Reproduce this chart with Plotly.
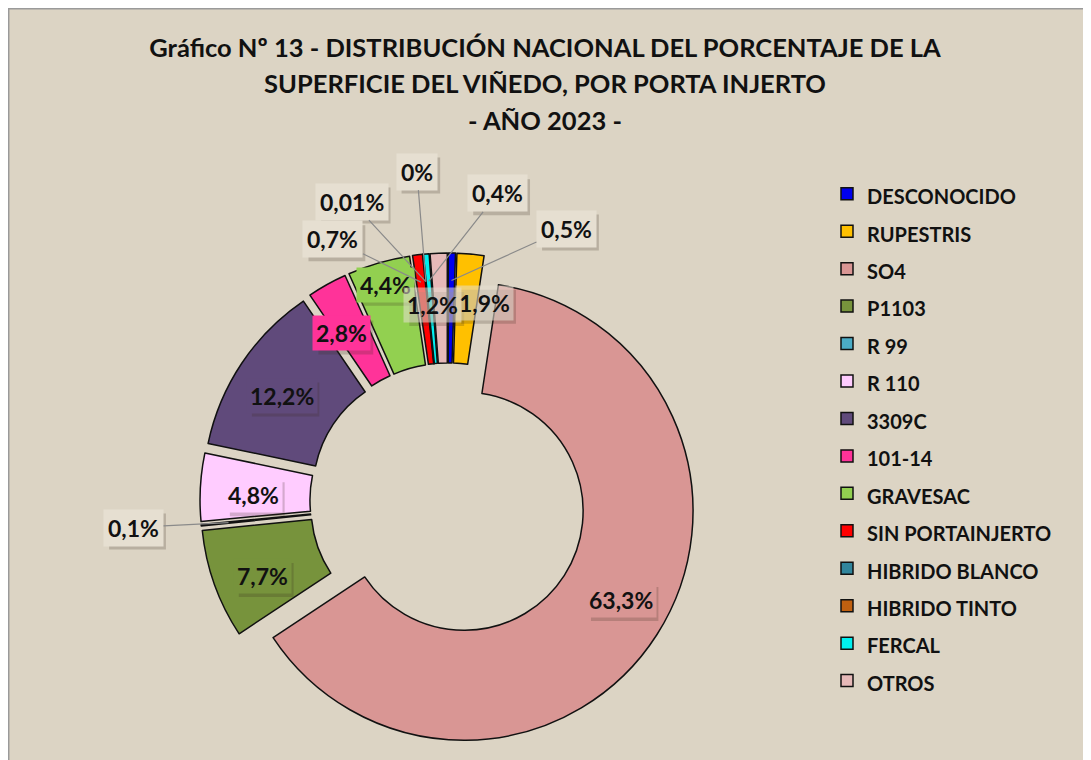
import math
import plotly.graph_objects as go

# ---------------- data ----------------
categories = ["DESCONOCIDO", "RUPESTRIS", "SO4", "P1103", "R 99", "R 110", "3309C",
              "101-14", "GRAVESAC", "SIN PORTAINJERTO", "HIBRIDO BLANCO",
              "HIBRIDO TINTO", "FERCAL", "OTROS"]
values = [0.5, 1.9, 63.3, 7.7, 0.1, 4.8, 12.2, 2.8, 4.4, 0.7, 0.01, 0, 0.4, 1.2]
value_labels = ["0,5%", "1,9%", "63,3%", "7,7%", "0,1%", "4,8%", "12,2%", "2,8%",
                "4,4%", "0,7%", "0,01%", "0%", "0,4%", "1,2%"]
colors = ["#0000ee", "#ffc000", "#d99694", "#77933c", "#4bacc6", "#ffccff", "#604a7b",
          "#ff3399", "#92d050", "#ff0000", "#31859c", "#c06010", "#00f0f0", "#e6b9b8"]

title_lines = ["Gráfico Nº 13 - DISTRIBUCIÓN NACIONAL DEL PORCENTAJE DE LA",
               "SUPERFICIE DEL VIÑEDO, POR PORTA INJERTO",
               "- AÑO 2023 -"]

# ---------------- layout / style ----------------
W, H = 1091, 760
OFF = 8          # the page body margin that shifts the figure in the browser
PULL = 0.083
HOLE = 0.52
FONT = "Lato"
BG = "#dcd4c4"
BOX = "#e6dfd1"
SHADOW = "rgba(60,45,30,0.22)"

# pie box in page pixels (centre 448,501; half size 248)
box_l, box_r, box_t, box_b = 200, 696, 253, 749
dom_x = [(box_l - OFF) / W, (box_r - OFF) / W]
dom_y = [1 - (box_b - OFF) / H, 1 - (box_t - OFF) / H]

# label placement style per slice: ("in", dx, dy) or ("out", ax, ay)
label_style = {
    "DESCONOCIDO": ("out", 115, -52),
    "RUPESTRIS": ("in", 19, -6),
    "SO4": ("in", 10, -5),
    "P1103": ("in", -4, 10),
    "R 99": ("out", -95, 5),
    "R 110": ("in", -2, 5),
    "3309C": ("in", -6, 2),
    "101-14": ("in", -12, 1),
    "GRAVESAC": ("in", -9, -31),
    "SIN PORTAINJERTO": ("out", -88, -43),
    "HIBRIDO BLANCO": ("out", -74, -80),
    "HIBRIDO TINTO": ("out", -9, -110),
    "FERCAL": ("out", 69, -88),
    "OTROS": ("in", -8, -3),
}
translucent_boxes = {"RUPESTRIS", "OTROS"}

# pie geometry (same rules plotly uses to place the pie in its domain), figure pixels
box_w = W * (dom_x[1] - dom_x[0])
box_h = H * (dom_y[1] - dom_y[0])
R = min(box_w, box_h) / (2 + 2 * PULL)
cx = W * (dom_x[0] + dom_x[1]) / 2
cy = H * (1 - dom_y[0]) - box_h / 2
total = sum(values)


def slice_point(i, rho):
    before = sum(values[:i])
    a = 2 * math.pi * (before + values[i] / 2) / total
    sx, sy = math.sin(a), -math.cos(a)
    px = cx + PULL * R * sx + rho * R * sx
    py = cy + PULL * R * sy + rho * R * sy
    return px, py


def to_paper(px, py):
    return px / W, 1 - py / H


def text_width(s):
    return sum(12.6 if c.isdigit() else 5.6 if c == "," else 18.0 for c in s)


def shadow_shape(px, py, s, pad, h):
    w = text_width(s) + 2 * pad
    x, y = to_paper(px, py)
    return dict(type="rect", xref="paper", yref="paper", layer="above",
                xsizemode="pixel", ysizemode="pixel", xanchor=x, yanchor=y,
                x0=-w / 2 + 4, x1=w / 2 + 4, y0=-h / 2 - 4, y1=h / 2 - 4,
                fillcolor=SHADOW, line=dict(width=0))


fig = go.Figure()
fig.add_trace(go.Pie(
    labels=[f"<span style='font-size:20px'>{c}</span>" for c in categories],
    values=values,
    sort=False,
    direction="clockwise",
    rotation=0,
    hole=HOLE,
    pull=[PULL] * len(values),
    marker=dict(colors=colors, line=dict(color="#111111", width=1.5)),
    textinfo="none",
    hovertext=value_labels,
    hoverinfo="text",
    domain=dict(x=dom_x, y=dom_y),
))

annotations = []
shapes = [dict(type="rect", xref="paper", yref="paper", layer="below",
               x0=0.7 / W, x1=1.01, y0=-0.01, y1=1 - 0.7 / H,
               fillcolor=BG, line=dict(color="#9a9a9a", width=1.5))]
lab_font = dict(family=FONT, size=23, color="#111111", weight="bold")
for i, cat in enumerate(categories):
    mode, ox, oy = label_style[cat]
    if mode == "in":
        px, py = slice_point(i, (1 + HOLE) / 2)
        px, py = px + ox, py + oy
        shapes.append(shadow_shape(px, py, value_labels[i], 3, 34))
        x, y = to_paper(px, py)
        bg = "rgba(230,223,209,0.55)" if cat in translucent_boxes else colors[i]
        annotations.append(dict(x=x, y=y, xref="paper", yref="paper", showarrow=False,
                                xanchor="center", yanchor="middle",
                                text=value_labels[i], font=lab_font, bgcolor=bg, borderpad=3))
    else:
        px, py = slice_point(i, 0.88)
        shapes.append(shadow_shape(px + ox, py + oy, value_labels[i], 4, 36))
        x, y = to_paper(px, py)
        annotations.append(dict(x=x, y=y, xref="paper", yref="paper", showarrow=True,
                                ax=ox, ay=oy, arrowhead=0, arrowwidth=1.2,
                                arrowcolor="#8a8a8a", standoff=0, startstandoff=0,
                                text=value_labels[i], font=lab_font, bgcolor=BOX, borderpad=4))

title_text = "<br>".join(f"<span style='font-size:25.5px'>{t}</span>" for t in title_lines)

fig.update_layout(
    width=W, height=H,
    margin=dict(l=0, r=0, t=0, b=0),
    paper_bgcolor="white",
    plot_bgcolor="white",
    title=dict(text=title_text, x=(545 - OFF) / W, xanchor="center", xref="paper",
               y=1 - (57 - OFF) / H, yref="container", yanchor="top",
               font=dict(family=FONT, size=28, color="#111111", weight="bold")),
    legend=dict(x=(827 - OFF) / W, xanchor="left", y=1 - (170 - OFF) / H, yanchor="top",
                font=dict(family=FONT, size=26.5, color="#111111", weight="bold"),
                bgcolor="rgba(0,0,0,0)", traceorder="normal"),
    shapes=shapes,
    annotations=annotations,
    hovermode=False,
)

fig.write_html("out.html")
